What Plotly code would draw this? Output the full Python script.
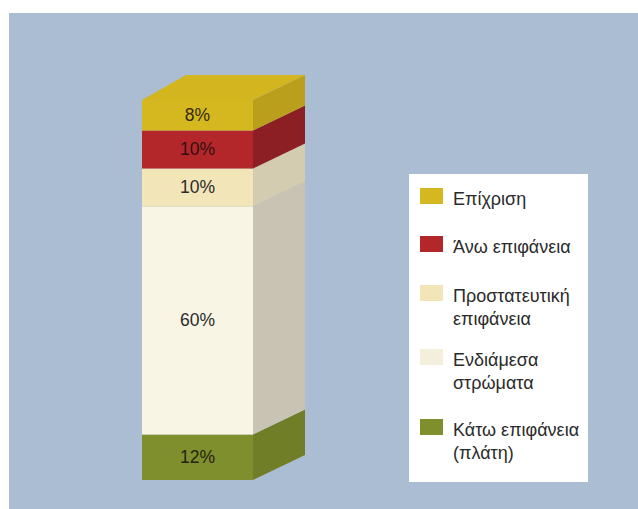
import plotly.graph_objects as go

# ---- data (bottom to top) ----
layers = ["Κάτω επιφάνεια (πλάτη)", "Ενδιάμεσα στρώματα", "Προστατευτική επιφάνεια", "Άνω επιφάνεια", "Επίχριση"]
values = [12, 60, 10, 10, 8]
legend_labels = ["Κάτω επιφάνεια<br>(πλάτη)", "Ενδιάμεσα<br>στρώματα", "Προστατευτική<br>επιφάνεια", "Άνω επιφάνεια", "Επίχριση"]
front_colors = ["#808f2d", "#f9f5e4", "#f2e5b8", "#b3272a", "#d5b81f"]
side_colors = ["#6f7e27", "#c8c3b3", "#d3ccb0", "#8b1f23", "#b99f1c"]
top_color = "#d2b51f"
label_colors = ["#23230f", "#2b2b2b", "#2b2b2b", "#331010", "#332b0c"]

W, H = 638, 509
# pixel geometry helpers (styling)
PX_PER_UNIT = 3.8
BASE_PX = 480
x_left, x_right = 142, 253
dx_right, dx_left, dy_px = 52, 44, 25
dy = dy_px / PX_PER_UNIT
y_min = (BASE_PX - H) / PX_PER_UNIT
y_max = BASE_PX / PX_PER_UNIT
FONT = "Liberation Sans Narrow, Liberation Sans, Arial Narrow, Arial, sans-serif"

fig = go.Figure()

bases = []
acc = 0
for v in values:
    bases.append(acc)
    acc += v
total = acc

# front faces
for name, v, b, c, lc in zip(layers, values, bases, front_colors, label_colors):
    fig.add_trace(go.Bar(
        x=[(x_left + x_right) / 2], y=[v], base=[b], width=[x_right - x_left],
        marker=dict(color=c, line=dict(width=0)), name=name,
        text=[f"{v}%"], textposition="inside", insidetextanchor="middle",
        textfont=dict(family=FONT, size=17.5, color=lc), textangle=0,
        hoverinfo="skip", showlegend=False))

# right side faces
for v, b, c in zip(values, bases, side_colors):
    t = b + v
    fig.add_trace(go.Scatter(
        x=[x_right, x_right + dx_right, x_right + dx_right, x_right, x_right],
        y=[b, b + dy, t + dy, t, b], fill="toself", fillcolor=c,
        mode="lines", line=dict(width=0, color=c), hoverinfo="skip", showlegend=False))

# top face
fig.add_trace(go.Scatter(
    x=[x_left, x_left + dx_left, x_right + dx_right, x_right, x_left],
    y=[total, total + dy, total + dy, total, total], fill="toself", fillcolor=top_color,
    mode="lines", line=dict(width=0, color=top_color), hoverinfo="skip", showlegend=False))

shapes = []
# background panel
shapes.append(dict(type="rect", xref="paper", yref="paper", x0=9 / W, x1=1, y0=0, y1=(H - 13) / H,
                   fillcolor="#aabdd2", line=dict(width=0), layer="below"))
# legend box
shapes.append(dict(type="rect", xref="paper", yref="paper", x0=409 / W, x1=588 / W,
                   y0=(H - 482) / H, y1=(H - 174) / H, fillcolor="white", line=dict(width=0), layer="above"))

annotations = []
# legend entries (top to bottom)
swatch_y = [196, 244, 293, 357, 427]
line_gap = 23
order = list(range(len(values)))[::-1]
for k, i in enumerate(order):
    yc = swatch_y[k]
    shapes.append(dict(type="rect", xref="paper", yref="paper", x0=420 / W, x1=443 / W,
                       y0=(H - (yc + 8)) / H, y1=(H - (yc - 8)) / H,
                       fillcolor=front_colors[i] if i != 1 else "#f3efdc", line=dict(width=0), layer="above"))
    lines = legend_labels[i].split("<br>")
    for j, ln in enumerate(lines):
        ty = yc + 3 + j * line_gap
        annotations.append(dict(xref="paper", yref="paper", x=451 / W, y=(H - ty) / H,
                                text=ln, showarrow=False, xanchor="left", yanchor="middle",
                                font=dict(family=FONT, size=18, color="#2b2b2b")))

fig.update_layout(
    width=W, height=H, margin=dict(l=0, r=0, t=0, b=0),
    paper_bgcolor="white", plot_bgcolor="rgba(0,0,0,0)",
    barmode="overlay", showlegend=False,
    xaxis=dict(range=[0, W], visible=False, fixedrange=True),
    yaxis=dict(range=[y_min, y_max], visible=False, fixedrange=True),
    shapes=shapes, annotations=annotations,
)

fig.write_html("out.html")
